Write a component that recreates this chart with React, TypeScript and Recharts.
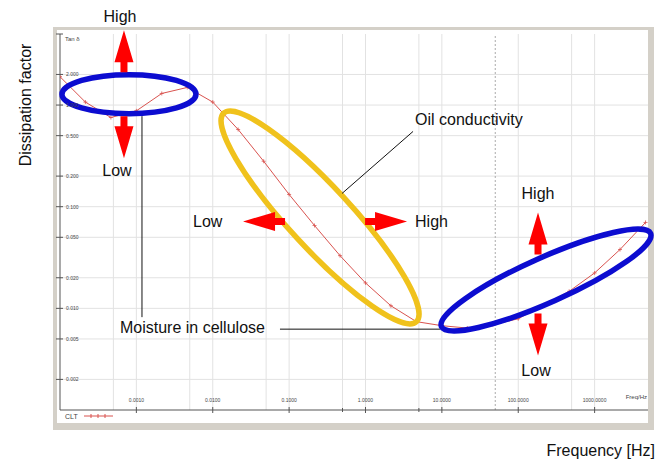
import { LineChart, Line, XAxis, YAxis, ReferenceLine, ReferenceDot, Label } from "recharts"

// measured tan delta vs frequency (3 points per decade)
const freqs = [
  0.0001, 0.000215, 0.000464, 0.001, 0.00215, 0.00464, 0.01, 0.0215, 0.0464, 0.1, 0.215, 0.464,
  1, 2.15, 4.64, 10, 21.5, 46.4, 100, 215, 464, 1000, 2150, 4640,
]
const tanDelta = [
  1.9, 1.07, 0.754, 0.877, 1.3, 1.49, 1.07, 0.575, 0.28, 0.132, 0.0653, 0.033,
  0.0178, 0.0106, 0.0074, 0.00675, 0.0064, 0.0069, 0.0079, 0.0108, 0.0147, 0.0223, 0.0379, 0.07,
]
const xTicks = [0.0005, 0.001, 0.005, 0.01, 0.05, 0.1, 0.5, 1, 5, 10, 50, 100, 500, 1000]
const yTicks = [0.002, 0.005, 0.01, 0.02, 0.05, 0.1, 0.2, 0.5, 1, 2, 5]
const powerFreq = 50

const data = freqs.map((f, i) => ({ f, t: tanDelta[i] }))

const FONT = "Arial, 'Liberation Sans', sans-serif"
const BLUE = "#0c0cd0"
const YELLOW = "#f0c21c"
const RED = "#ff0000"
const CURVE = "#d9534f"
const GRID = "#e2e2e2"

const isDecade = (v: number) => Math.abs(Math.log10(v) - Math.round(Math.log10(v))) < 1e-6

function XTick({ x, y, payload }: any) {
  const major = isDecade(payload.value)
  return (
    <g>
      <line x1={x} x2={x} y1={major ? y - 3 : y - 2} y2={major ? y + 3 : y + 2} stroke="#555" />
      {major && (
        <text x={x} y={y - 8} textAnchor="middle" fontSize={5} fill="#444" fontFamily={FONT}>
          {payload.value.toFixed(4)}
        </text>
      )}
    </g>
  )
}

function YTick({ x, y, payload }: any) {
  return (
    <g>
      <line x1={x - 4} x2={x + 3} y1={y} y2={y} stroke="#555" />
      {payload.value < 5 && (
        <text x={x + 6} y={y + 2} fontSize={5} fill="#444" fontFamily={FONT}>
          {payload.value.toFixed(3)}
        </text>
      )}
    </g>
  )
}

function CrossDot({ cx, cy }: any) {
  return <path d={`M${cx - 2},${cy}h4M${cx},${cy - 2}v4`} stroke={CURVE} strokeWidth={0.8} />
}

// fat red arrow, base at (x, y), pointing along (dx, dy)
function arrow(x: number, y: number, dx: number, dy: number) {
  const L = 42, H = 32, sw = 7, hw = 19
  const px = -dy, py = dx
  const pt = (a: number, b: number) => `${x + dx * a + px * b},${y + dy * a + py * b}`
  const pts = [
    pt(0, sw / 2), pt(L - H, sw / 2), pt(L - H, hw / 2), pt(L, 0),
    pt(L - H, -hw / 2), pt(L - H, -sw / 2), pt(0, -sw / 2),
  ].join(" ")
  return <polygon points={pts} fill={RED} />
}

const txt = { fontFamily: FONT, fontSize: 16, fill: "#111" }

function LowFreqGroup({ cx, cy }: any) {
  return (
    <g>
      <line x1={cx + 13} x2={cx + 13} y1={cy + 22} y2={cy + 223} stroke="#111" />
      <line x1={cx + 151} x2={cx + 311} y1={cy + 235} y2={cy + 235} stroke="#111" />
      <text x={cx - 9} y={cy + 233} dominantBaseline="central" {...txt}>Moisture in cellulose</text>
      <ellipse cx={cx} cy={cy} rx={67} ry={19.5} fill="none" stroke={BLUE} strokeWidth={5.5} />
      {arrow(cx - 5, cy - 22, 0, -1)}
      {arrow(cx - 5, cy + 22, 0, 1)}
      <text x={cx - 9} y={cy - 78} textAnchor="middle" dominantBaseline="central" {...txt}>High</text>
      <text x={cx - 12} y={cy + 76} textAnchor="middle" dominantBaseline="central" {...txt}>Low</text>
    </g>
  )
}

function OilGroup({ cx, cy }: any) {
  return (
    <g>
      <ellipse cx={cx} cy={cy} rx={142} ry={31} fill="none" stroke={YELLOW} strokeWidth={5.5}
        transform={`rotate(47.3 ${cx} ${cy})`} />
      <line x1={cx + 93} y1={cy - 86} x2={cx + 22} y2={cy - 24} stroke="#111" />
      <text x={cx + 95} y={cy - 98} dominantBaseline="central" {...txt}>Oil conductivity</text>
      {arrow(cx - 35, cy + 4, -1, 0)}
      {arrow(cx + 45, cy + 4, 1, 0)}
      <text x={cx - 127} y={cy + 4} dominantBaseline="central" {...txt}>Low</text>
      <text x={cx + 95} y={cy + 4} dominantBaseline="central" {...txt}>High</text>
    </g>
  )
}

function HighFreqGroup({ cx, cy }: any) {
  return (
    <g>
      <ellipse cx={cx} cy={cy} rx={114.5} ry={22.5} fill="none" stroke={BLUE} strokeWidth={5.5}
        transform={`rotate(-24 ${cx} ${cy})`} />
      {arrow(cx - 8, cy - 25.5, 0, -1)}
      {arrow(cx - 8, cy + 33.5, 0, 1)}
      <text x={cx - 8} y={cy - 86.5} textAnchor="middle" dominantBaseline="central" {...txt}>High</text>
      <text x={cx - 10} y={cy + 90.5} textAnchor="middle" dominantBaseline="central" {...txt}>Low</text>
    </g>
  )
}

export default function App() {
  return (
    <div style={{ position: "absolute", left: 0, top: 0, width: 665, height: 463, background: "#fff", fontFamily: FONT }}>
      {/* instrument window frame */}
      <div style={{ position: "absolute", left: 53, top: 27, width: 601, height: 403, background: "#d4d0c8" }} />
      <div style={{ position: "absolute", left: 57, top: 30, width: 591, height: 393, background: "#fff" }} />
      <div style={{ position: "absolute", left: 65, top: 412, fontSize: 7, color: "#444", display: "flex", alignItems: "center" }}>
        <span>CLT</span>
        <svg width={32} height={8} style={{ marginLeft: 5 }}>
          <line x1={1} x2={30} y1={4} y2={4} stroke={CURVE} />
          {[8, 15, 22].map((cx) => (
            <path key={cx} d={`M${cx},2v4`} stroke={CURVE} />
          ))}
        </svg>
      </div>
      <div style={{ position: "absolute", left: 0, top: 0 }}>
        <LineChart width={665} height={463} data={data} margin={{ top: 34, right: 17, bottom: 33, left: 40 }}>
          <XAxis
            dataKey="f"
            type="number"
            scale="log"
            domain={[0.0001, 5000]}
            allowDataOverflow
            ticks={xTicks}
            height={20}
            tickSize={0}
            tickMargin={0}
            tickLine={false}
            axisLine={{ stroke: "#555" }}
            tick={<XTick />}
          >
            <Label
              content={({ viewBox }: any) => (
                <g>
                  <text x={viewBox.x + viewBox.width - 1} y={viewBox.y - 11} textAnchor="end" fontSize={6} fill="#444" fontFamily={FONT}>
                    Freq/Hz
                  </text>
                  <text x={viewBox.x + viewBox.width + 7} y={viewBox.y + 46} textAnchor="end" {...txt}>
                    Frequency [Hz]
                  </text>
                </g>
              )}
            />
          </XAxis>
          <YAxis
            type="number"
            scale="log"
            domain={[0.001, 5]}
            allowDataOverflow
            ticks={yTicks}
            width={20}
            tickSize={0}
            tickMargin={0}
            tickLine={false}
            axisLine={{ stroke: "#555" }}
            tick={<YTick />}
          >
            <Label
              content={({ viewBox }: any) => {
                const lx = viewBox.x - 15
                const ly = viewBox.y + 71
                return (
                  <g>
                    <text x={lx} y={ly} textAnchor="middle" dominantBaseline="central" transform={`rotate(-90 ${lx} ${ly})`} {...txt}>
                      Dissipation factor
                    </text>
                    <text x={viewBox.x + 25} y={viewBox.y + 7} fontSize={6} fill="#444" fontFamily={FONT}>
                      Tan δ
                    </text>
                  </g>
                )
              }}
            />
          </YAxis>
          {/* grid drawn explicitly so it also shows on the log axes */}
          {xTicks.filter((v) => v !== powerFreq).map((v) => (
            <ReferenceLine key={`gx-${v}`} x={v} stroke={GRID} />
          ))}
          {yTicks.filter((v) => v < 5).map((v) => (
            <ReferenceLine key={`gy-${v}`} y={v} stroke={GRID} />
          ))}
          <ReferenceLine x={powerFreq} stroke="#aaa" strokeDasharray="2 2" />
          <Line
            dataKey="t"
            type="linear"
            stroke={CURVE}
            strokeWidth={1}
            dot={<CrossDot />}
            activeDot={false}
            isAnimationActive={false}
          />
          <ReferenceDot x={0.0008} y={1.28} shape={(p: any) => <LowFreqGroup cx={p.cx} cy={p.cy} />} />
          <ReferenceDot x={0.254} y={0.0784} shape={(p: any) => <OilGroup cx={p.cx} cy={p.cy} />} />
          <ReferenceDot x={231} y={0.019} shape={(p: any) => <HighFreqGroup cx={p.cx} cy={p.cy} />} />
        </LineChart>
      </div>
    </div>
  )
}
